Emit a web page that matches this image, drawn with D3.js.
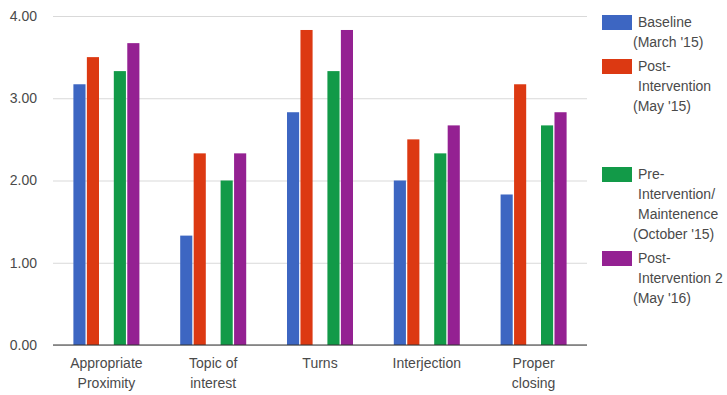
<!DOCTYPE html>
<html>
<head>
<meta charset="utf-8">
<script src="https://cdn.jsdelivr.net/npm/d3@7/dist/d3.min.js"></script>
<style>
  html, body { margin: 0; padding: 0; background: #fff; }
  svg { display: block; font-family: "Liberation Sans", Arial, sans-serif; }
</style>
</head>
<body>
<svg id="chart" width="727" height="395"></svg>
<script>
// Skill categories along the x axis (each label may wrap to two lines)
const categories = [
  ["Appropriate", "Proximity"],
  ["Topic of", "interest"],
  ["Turns"],
  ["Interjection"],
  ["Proper", "closing"]
];

// Series legend labels (the empty entry is a spacer series with no bars)
const seriesLabels = [
  ["Baseline", "(March '15)"],
  ["Post-", "Intervention", "(May '15)"],
  ["", ""],
  ["Pre-", "Intervention/", "Maintenence", "(October '15)"],
  ["Post-", "Intervention 2", "(May '16)"]
];
const seriesColors = ["#3d66c2", "#dc3912", "#ff9900", "#129a48", "#942192"];

// Average scores per category
const baseline      = [3.17, 1.33, 2.83, 2.00, 1.83];
const postMay15     = [3.50, 2.33, 3.83, 2.50, 3.17];
const spacer        = [null, null, null, null, null];
const preOct15      = [3.33, 2.00, 3.33, 2.33, 2.67];
const postMay16     = [3.67, 2.33, 3.83, 2.67, 2.83];
const seriesValues = [baseline, postMay15, spacer, preOct15, postMay16];

const yTicks = [0, 1, 2, 3, 4];

const svg = d3.select("#chart");
const plotLeft = 53, plotRight = 587, plotTop = 16, plotBottom = 345;
const textColor = "#4a4a4a";

const catKeys = categories.map((c, i) => i);
const x0 = d3.scaleBand().domain(catKeys).range([plotLeft, plotRight]).padding(0);
const groupWidth = x0.bandwidth() * 0.618;
const x1 = d3.scaleBand().domain(d3.range(seriesValues.length))
  .range([0, groupWidth]).paddingInner(0.1).paddingOuter(0);
const y = d3.scaleLinear().domain([0, 4]).range([plotBottom, plotTop]);

// Gridlines and y tick labels
const yAxis = d3.axisLeft(y).tickValues(yTicks).tickFormat(d3.format(".2f"))
  .tickSize(-(plotRight - plotLeft)).tickPadding(16);
const gy = svg.append("g").attr("transform", `translate(${plotLeft},0)`).call(yAxis);
gy.select(".domain").remove();
gy.selectAll(".tick line").attr("stroke", "#d9d9d9").attr("stroke-width", 1);
gy.selectAll(".tick text").attr("fill", textColor).attr("font-size", 14);

// Bars
const groups = svg.append("g").selectAll("g").data(catKeys).join("g")
  .attr("transform", d => `translate(${x0(d) + (x0.bandwidth() - groupWidth) / 2},0)`);
groups.selectAll("rect")
  .data(ci => seriesValues.map((vals, si) => ({ si, v: vals[ci] })).filter(d => d.v != null))
  .join("rect")
  .attr("x", d => x1(d.si))
  .attr("width", x1.bandwidth())
  .attr("y", d => y(d.v))
  .attr("height", d => y(0) - y(d.v))
  .attr("fill", d => seriesColors[d.si]);

// Baseline
svg.append("line").attr("x1", plotLeft).attr("x2", plotRight)
  .attr("y1", y(0)).attr("y2", y(0)).attr("stroke", "#333").attr("stroke-width", 1);

// Category labels
const xLab = svg.append("g");
categories.forEach((lines, i) => {
  const cx = x0(i) + x0.bandwidth() / 2;
  const t = xLab.append("text")
    .attr("x", cx)
    .attr("y", 368)
    .attr("text-anchor", "middle")
    .attr("fill", textColor)
    .attr("font-size", 14);
  lines.forEach((ln, k) => t.append("tspan")
    .attr("x", cx).attr("dy", k === 0 ? 0 : 20).text(ln));
});

// Legend
const legend = svg.append("g");
const lineH = 20;
let ly = 15;
seriesLabels.forEach((lines, si) => {
  if (lines.some(s => s !== "")) {
    legend.append("rect").attr("x", 602).attr("y", ly)
      .attr("width", 30).attr("height", 15).attr("fill", seriesColors[si]);
    lines.forEach((ln, k) => {
      legend.append("text")
        .attr("x", ln.startsWith("(") ? 633 : 638)
        .attr("y", ly + 7.5 + k * lineH)
        .attr("dy", "0.35em")
        .attr("fill", textColor)
        .attr("font-size", 14)
        .text(ln);
    });
  }
  ly += lines.length * lineH + 4;
});
</script>
</body>
</html>
